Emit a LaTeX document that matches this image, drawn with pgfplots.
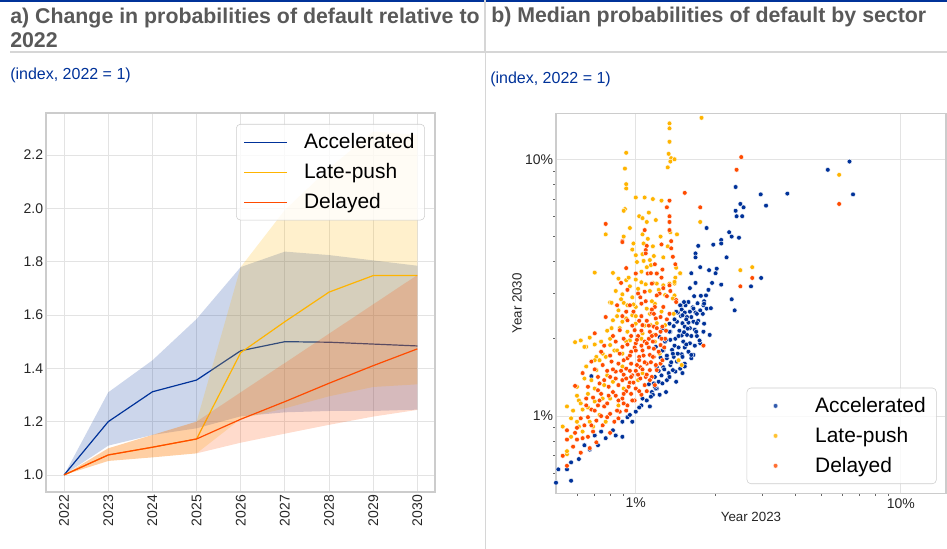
\documentclass[border=0pt]{standalone}
\usepackage{fontspec}
\setmainfont{Liberation Sans}
\usepackage{pgfplots}
\pgfplotsset{compat=1.18}
\definecolor{ecbblue}{HTML}{003299}
\definecolor{ecbyellow}{HTML}{FFB400}
\definecolor{ecborange}{HTML}{FF4B00}
\definecolor{titlegray}{HTML}{595959}
\definecolor{gridgray}{HTML}{E3E3E3}
\definecolor{framegray}{HTML}{CCCCCC}
\definecolor{sepgray}{HTML}{D6D6D6}
\definecolor{ticktext}{HTML}{262626}
\begin{document}
\begin{tikzpicture}
\useasboundingbox (0,0) rectangle (710.25pt,-411.75pt);
\fill[ecbblue] (0,0) rectangle (710.25pt,-1.2pt);
\draw[sepgray, line width=1.5pt] (7.5pt,-39pt) -- (710.25pt,-39pt);
\draw[sepgray, line width=1.6pt] (364pt,0pt) -- (364pt,-39pt);
\draw[sepgray, line width=1.0pt] (364pt,-39pt) -- (364pt,-411.75pt);
\node[anchor=base west, inner sep=0pt, font=\fontsize{16}{19}\selectfont\bfseries, text=titlegray] at (7.5pt,-18pt) {a) Change in probabilities of default relative to};
\node[anchor=base west, inner sep=0pt, font=\fontsize{16}{19}\selectfont\bfseries, text=titlegray] at (7.5pt,-35.5pt) {2022};
\node[anchor=base west, inner sep=0pt, font=\fontsize{16}{19}\selectfont\bfseries, text=titlegray] at (368.25pt,-17pt) {b) Median probabilities of default by sector};
\node[anchor=base west, inner sep=0pt, font=\fontsize{12}{14}\selectfont, text=ecbblue] at (7.5pt,-60pt) {(index, 2022 = 1)};
\node[anchor=base west, inner sep=0pt, font=\fontsize{12}{14}\selectfont, text=ecbblue] at (367.5pt,-62.5pt) {(index, 2022 = 1)};

\begin{axis}[
  at={(34.5pt,-369pt)}, anchor=south west,
  scale only axis, width=291.75pt, height=284.25pt,
  xmin=2021.59, xmax=2030.4, ymin=0.936, ymax=2.358,
  xtick={2022,2023,2024,2025,2026,2027,2028,2029,2030},
  xticklabels={2022,2023,2024,2025,2026,2027,2028,2029,2030},
  ytick={1.0,1.2,1.4,1.6,1.8,2.0,2.2},
  yticklabels={1.0,1.2,1.4,1.6,1.8,2.0,2.2},
  grid=major, grid style={gridgray, line width=0.6pt},
  axis line style={framegray, line width=0.8pt},
  major tick length=0pt,
  tick label style={font=\fontsize{10.5}{12}\selectfont, text=ticktext},
  xticklabel style={rotate=90, anchor=east, inner sep=2pt},
  yticklabel style={inner sep=2pt},
  legend style={at={(0.974,0.971)}, anchor=north east, draw=framegray, rounded corners=3pt,
    fill=white, fill opacity=0.8, text opacity=1, font=\fontsize{15.7}{18}\selectfont,
    inner xsep=5.5pt, inner ysep=5pt, row sep=5.6pt,
    /tikz/every odd column/.append style={column sep=10.5pt}},
  legend cell align=left,
  legend image code/.code={\draw[#1, line width=0.8pt] (0pt,0pt) -- (32pt,0pt);},
]
\addplot[draw=none, fill=ecbblue, fill opacity=0.2, forget plot] coordinates {
(2022,1.0) (2023,1.31) (2024,1.43) (2025,1.585) (2026,1.78) (2027,1.838) (2028,1.825) (2029,1.805) (2030,1.785)
(2030,1.245) (2029,1.24) (2028,1.24) (2027,1.235) (2026,1.22) (2025,1.175) (2024,1.15) (2023,1.11) (2022,1.0)};
\addplot[ecbblue, line width=0.9pt] coordinates {
(2022,1.0) (2023,1.2) (2024,1.312) (2025,1.356) (2026,1.466) (2027,1.5) (2028,1.498) (2029,1.491) (2030,1.484)};
\addlegendentry{Accelerated\hspace{3pt}}
\addplot[draw=none, fill=ecbyellow, fill opacity=0.2, forget plot] coordinates {
(2022,1.0) (2023,1.1) (2024,1.15) (2025,1.2) (2026,1.78) (2027,1.994) (2028,2.15) (2029,2.288) (2030,2.276)
(2030,1.34) (2029,1.33) (2028,1.295) (2027,1.25) (2026,1.21) (2025,1.081) (2024,1.066) (2023,1.0525) (2022,1.0)};
\addplot[ecbyellow, line width=0.9pt] coordinates {
(2022,1.0) (2023,1.075) (2024,1.104) (2025,1.135) (2026,1.459) (2027,1.575) (2028,1.686) (2029,1.748) (2030,1.748)};
\addlegendentry{Late-push}
\addplot[draw=none, fill=ecborange, fill opacity=0.2, forget plot] coordinates {
(2022,1.0) (2023,1.1) (2024,1.15) (2025,1.2) (2026,1.31) (2027,1.42) (2028,1.53) (2029,1.64) (2030,1.75)
(2030,1.244) (2029,1.219) (2028,1.188) (2027,1.155) (2026,1.121) (2025,1.081) (2024,1.066) (2023,1.0525) (2022,1.0)};
\addplot[ecborange, line width=0.9pt] coordinates {
(2022,1.0) (2023,1.075) (2024,1.104) (2025,1.135) (2026,1.209) (2027,1.275) (2028,1.344) (2029,1.41) (2030,1.473)};
\addlegendentry{Delayed}
\end{axis}

\begin{axis}[
  at={(417pt,-370pt)}, anchor=south west,
  scale only axis, width=292.5pt, height=285pt,
  xmode=log, ymode=log, xmin=0.5, xmax=14.8, ymin=0.5, ymax=15.1,
  xtick={1,10}, xticklabels={1\%,10\%}, ytick={1,10}, yticklabels={1\%,10\%},
  minor xtick={0.6,0.7,0.8,0.9,2,3,4,5,6,7,8,9},
  minor ytick={0.6,0.7,0.8,0.9,2,3,4,5,6,7,8,9},
  xtick pos=left, ytick pos=left,
  grid=major, grid style={gridgray, line width=0.6pt},
  axis line style={framegray, line width=0.8pt},
  tick align=outside, major tick length=0pt, minor tick length=2pt,
  minor tick style={black!60, line width=0.5pt},
  tick label style={font=\fontsize{10.5}{12}\selectfont, text=ticktext},
  xticklabel style={inner sep=2pt, yshift=-1.5pt},
  yticklabel style={inner sep=2pt},
  xlabel={Year 2023}, ylabel={Year 2030},
  label style={font=\fontsize{10}{12}\selectfont, text=ticktext},
  xlabel style={at={(axis description cs:0.5,0)}, anchor=base, yshift=-21.3pt},
  ylabel style={at={(axis description cs:0,0.5)}, anchor=base, yshift=25.7pt},
  legend style={at={(0.976,0.0245)}, anchor=south east, draw=framegray, rounded corners=3pt,
    fill=white, fill opacity=0.8, text opacity=1, font=\fontsize{15.7}{18}\selectfont,
    inner xsep=6pt, inner ysep=5pt, row sep=5.6pt},
  legend cell align=left,
  legend image code/.code={\path (0pt,0pt) (42.75pt,0pt); \draw[#1] plot coordinates {(15.25pt,0pt)};},
]
\addplot[only marks, mark=*, mark size=1.8pt, mark options={fill=ecbblue, draw=white, line width=0.3pt}] coordinates {
(6.4,9.8) (5.3,9.1) (2.38,7.8) (2.96,7.3) (3.73,7.35) (6.6,7.3) (2.48,6.7) (2.55,6.5) (3.1,6.6) (2.38,6.3) (2.4,6.0) (2.52,6.0) (1.85,5.4) (2.25,5.2) (2.3,5.0) (2.45,4.95) (2.1,4.85) (2.1,4.7) (1.96,4.65) (1.72,4.6) (1.68,4.3) (1.68,4.15) (2.2,4.15) (1.75,3.8) (1.89,3.7) (2.02,3.75) (2.0,3.6) (2.97,3.45) (2.72,3.2) (1.62,3.6) (1.68,3.3) (1.94,3.3) (2.1,3.25) (1.88,3.1) (1.6,3.15) (1.66,2.93) (1.76,2.94) (1.84,2.95) (2.3,2.85) (1.81,2.8) (1.71,2.75) (1.8,2.7) (1.64,2.65) (1.85,2.62) (1.92,2.63) (2.36,2.58) (1.68,2.53)
(1.58,2.78) (1.54,2.7) (1.48,2.7) (1.49,2.6) (1.6,2.55) (1.53,2.53) (1.44,2.53) (1.7,2.5) (1.62,2.43) (1.56,2.43) (1.48,2.45) (1.72,2.35) (1.65,2.33) (1.58,2.31) (1.5,2.3) (1.43,2.33) (1.39,2.24) (1.53,2.23) (1.6,2.2) (1.67,2.17) (1.8,2.13) (1.9,2.07) (1.35,2.13) (1.46,2.15) (1.49,2.06) (1.56,2.07) (1.7,2.05) (1.41,2.0) (1.35,1.98) (1.29,1.95) (1.51,1.95) (1.6,1.92) (1.67,1.88) (1.75,1.92) (1.53,1.85) (1.45,1.85) (1.37,1.81) (1.27,1.8) (1.58,1.78) (1.49,1.74) (1.65,1.73) (1.62,1.68) (1.39,1.7) (1.31,1.68) (1.24,1.69) (1.43,1.63) (1.53,1.6) (1.35,1.58) (1.47,1.53) (1.27,1.55) (1.2,1.55) (1.41,1.49) (1.33,1.47) (1.25,1.44) (1.18,1.42) (1.31,1.38) (1.22,1.36) (1.17,1.34) (1.2,1.28) (1.15,1.24) (1.16,1.21)
(1.52,2.78) (1.47,2.7) (1.42,2.55) (1.5,2.47) (1.4,2.38) (1.34,2.29) (1.26,2.19) (1.34,2.13) (1.23,2.03) (1.3,1.98) (1.19,1.86) (1.26,1.8) (1.38,1.75) (1.5,1.7) (1.62,1.73) (1.74,1.97) (1.69,2.13) (1.57,2.19) (1.81,2.74) (1.79,2.5) (1.81,2.29)
(1.53,1.56) (1.38,1.51) (1.34,1.42) (1.26,1.34) (1.19,1.28) (1.14,1.19) (1.13,1.09) (1.0,1.04) (0.93,0.99) (0.89,0.95) (0.89,0.83) (0.84,0.84) (0.77,0.82) (0.72,0.77) (0.67,0.74) (0.61,0.68) (0.57,0.66) (0.55,0.62) (0.51,0.62) (0.57,0.56) (0.5,0.55) (1.05,1.1) (0.97,0.95) (0.82,0.88) (0.74,0.87) (0.7,0.84) (0.64,0.77) (1.06,1.17) (1.23,1.21) (1.3,1.24) (1.42,1.36) (1.5,1.47) (0.68,1.43)
(1.1,1.15) (1.18,1.3) (1.28,1.52) (1.36,1.62) (1.44,1.75) (1.55,1.9) (1.62,2.05) (1.7,2.3) (1.75,2.58) (1.45,2.05) (1.4,1.88) (1.31,1.72) (1.22,1.5) (1.12,1.33) (1.55,2.38) (1.65,2.62) (1.52,2.12) (1.03,1.08) (0.95,1.01)};
\addlegendentry{Accelerated\hspace{3pt}}
\addplot[only marks, mark=*, mark size=1.8pt, mark options={fill=ecbyellow, draw=white, line width=0.3pt}] coordinates {
(1.77,14.5) (1.34,13.8) (1.34,13.2) (1.34,11.7) (1.33,10.5) (1.36,10.1) (1.4,10.0) (1.35,9.8) (1.32,9.3) (0.92,10.6) (0.91,9.2) (0.92,8.0) (0.92,7.7) (1.0,7.1) (1.08,7.1) (1.16,7.0) (1.25,6.9) (0.91,6.4) (0.9,6.3) (1.12,6.2) (1.03,6.0) (1.06,5.9) (1.19,5.8) (1.1,5.7) (1.75,5.7) (0.95,5.4) (1.35,5.2) (1.43,5.1) (1.06,5.1) (0.77,5.1) (0.9,5.0) (1.24,5.0) (1.11,4.9) (5.85,8.7) (2.48,3.7) (2.75,3.8)
(0.98,4.7) (1.07,4.7) (1.16,4.58) (1.32,4.58) (0.97,4.45) (1.0,4.23) (1.06,4.27) (1.17,4.2) (1.27,4.15) (1.01,3.98) (1.07,4.02) (1.13,4.05) (1.14,3.87) (1.42,3.78) (0.70,3.62) (0.82,3.61) (1.05,3.65) (1.47,3.59) (0.86,3.43) (0.92,3.38) (0.94,3.46) (1.05,3.32) (1.09,3.26) (1.2,3.28) (1.4,3.28) (0.84,3.07) (1.02,3.13) (1.13,3.07) (0.89,2.98) (0.97,2.9) (1.4,2.95) (0.8,2.77) (0.9,2.76) (1.0,2.66) (1.1,2.62) (1.25,2.55) (0.86,2.58) (0.97,2.47) (1.13,2.5) (0.82,2.36) (0.89,2.33) (1.0,2.29) (1.14,2.26) (0.81,2.2) (0.93,2.13) (1.06,2.1) (0.62,1.97) (0.67,2.02) (0.59,1.94) (0.65,1.86) (0.8,1.89) (0.83,1.8) (0.95,1.97) (0.89,1.75) (0.71,1.7) (0.77,1.7)
(1.2,3.6) (1.41,3.46) (1.47,3.6) (1.27,3.23) (1.34,3.28) (1.4,3.33) (1.29,2.96) (1.38,2.87) (1.18,2.74) (1.39,2.5) (1.2,2.3) (1.29,2.26) (1.17,2.07) (1.18,1.95) (1.23,1.75) (1.45,1.65) (1.49,1.58)
(0.65,1.56) (0.71,1.51) (0.78,1.44) (0.89,1.56) (0.68,1.38) (0.82,1.36) (1.06,1.47) (0.55,1.09) (0.53,0.91) (0.57,0.83) (0.61,0.91) (0.63,0.87) (0.67,0.95) (0.69,0.91) (0.55,0.71) (0.55,0.73) (0.61,1.15) (0.66,1.22) (0.63,1.06) (0.7,1.14) (0.75,1.17) (0.73,1.01) (0.8,1.17) (0.86,1.1) (0.9,1.28) (1.02,1.38) (0.73,1.65) (0.77,0.95) (0.64,1.86) (0.81,2.76)
(0.6,1.3) (0.64,1.4) (0.7,1.65) (0.74,1.95) (0.78,2.15) (0.85,2.45) (0.88,2.85) (0.95,3.2) (1.0,3.4) (1.1,3.8) (0.85,1.8) (0.92,1.95) (1.0,2.45) (1.05,2.0) (1.15,2.8) (1.22,3.1) (0.76,1.32) (0.58,1.05) (0.6,0.95) (0.66,1.08) (1.08,2.25) (0.93,2.7) (1.16,3.3)
(0.7,1.28) (0.62,1.12) (0.57,0.98) (0.75,1.75) (0.8,2.0) (0.87,2.2) (0.92,2.4) (0.98,2.72) (0.7,1.9) (0.6,1.2)};
\addlegendentry{Late-push}
\addplot[only marks, mark=*, mark size=1.8pt, mark options={fill=ecborange, draw=white, line width=0.3pt}] coordinates {
(2.5,10.2) (2.4,9.1) (5.85,6.7) (2.75,3.45) (2.48,3.2) (1.8,1.88)
(1.53,7.4) (1.34,6.9) (1.31,6.5) (1.75,6.5) (1.34,6.0) (0.77,5.6) (1.34,5.7) (1.34,5.3) (1.08,5.3) (1.36,4.8) (0.89,4.8)
(0.89,4.76) (1.1,4.6) (1.25,4.66) (1.36,4.5) (1.09,4.43) (1.09,4.3) (1.38,4.17) (1.18,3.9) (1.26,3.72) (1.41,3.9) (0.92,3.77) (1.0,3.59) (1.11,3.59) (1.2,3.59) (0.88,3.3) (1.34,3.23) (0.93,3.1) (1.08,3.05) (1.02,3.0) (1.23,3.0) (1.31,2.93) (1.42,2.83) (0.85,2.7) (0.95,2.7) (1.05,2.74) (1.18,2.66) (1.34,2.5) (0.92,2.55) (1.05,2.45) (1.19,2.4) (0.77,2.43) (0.93,2.36) (1.06,2.26) (1.26,2.23) (0.87,2.16) (0.99,2.16) (1.13,2.13) (1.19,2.07) (0.74,1.78) (0.84,1.95) (0.89,1.86) (1.0,1.92) (0.96,1.78) (1.06,1.8) (1.03,1.7) (1.13,1.73) (0.7,2.1)
(1.14,3.6) (1.25,3.46) (1.15,3.28) (1.35,3.07) (1.42,2.78) (1.27,2.66) (1.15,2.52) (1.24,2.43) (1.31,2.38) (1.17,2.23) (1.24,2.13) (1.29,2.0) (1.24,1.89) (1.17,1.83) (1.17,1.7) (1.2,1.51) (1.15,1.42) (1.18,1.32) (1.24,1.6)
(0.68,1.63) (0.63,1.47) (0.75,1.58) (0.84,1.49) (0.96,1.6) (1.03,1.65) (0.59,1.31) (0.73,1.34) (0.89,1.38) (0.97,1.44) (1.13,1.51) (0.55,0.88) (0.59,0.86) (0.6,0.81) (0.64,0.92) (0.66,0.83) (0.69,0.87) (0.71,0.79) (0.62,0.72) (0.67,0.75) (0.53,0.7) (0.55,0.64) (0.55,0.81) (0.65,1.17) (0.65,1.1) (0.68,1.06) (0.72,1.26) (0.76,1.09) (0.78,0.99) (0.71,0.96) (0.82,1.24) (0.89,1.17) (0.87,1.04) (0.83,0.95) (0.96,1.22) (0.93,1.1) (1.0,1.28) (1.08,1.32) (1.05,1.21) (1.09,1.42) (1.19,1.58) (1.26,1.65) (1.16,1.7) (0.92,1.53) (0.81,1.63) (0.99,1.15) (0.8,0.86) (0.75,0.92)
(0.78,1.12) (0.84,1.2) (0.9,1.45) (0.95,1.35) (1.0,1.5) (1.04,1.4) (1.1,1.6) (1.12,1.85) (1.08,1.95) (1.02,2.05) (0.97,2.25) (1.1,2.35) (1.15,2.6) (1.2,2.2) (1.25,2.0) (1.3,2.15) (1.22,1.78) (1.28,1.85) (1.1,1.25) (1.13,1.38) (0.92,1.25) (0.86,1.32) (0.8,1.42) (0.86,1.6) (0.93,1.68) (0.99,1.85) (0.9,2.0) (0.82,2.05) (0.76,1.88) (0.7,1.52) (0.74,1.22) (0.7,1.05) (0.62,0.98) (0.66,0.99) (0.72,1.1) (0.79,1.3) (1.04,1.55) (1.07,1.72) (1.17,2.5) (1.09,2.8) (1.2,2.95) (1.27,3.15) (1.04,2.9) (0.98,2.55) (0.89,2.45) (1.12,2.0) (1.01,1.98) (0.95,1.5) (0.85,1.05) (0.9,1.12)
(0.8,1.02) (0.86,1.15) (0.9,1.22) (0.94,1.3) (0.98,1.35) (1.02,1.45) (1.06,1.52) (1.1,1.45) (1.14,1.62) (1.08,1.62) (1.01,1.58) (0.96,1.42) (0.92,1.4) (0.88,1.5) (0.84,1.4) (0.82,1.52) (0.78,1.5) (0.76,1.38) (0.79,1.2) (0.73,1.15) (0.69,1.18) (0.66,1.3) (0.72,1.42) (0.9,1.65) (0.95,1.72) (1.0,1.8) (1.05,1.88) (1.1,1.92) (1.15,2.05) (1.05,2.15) (0.96,2.05) (0.87,1.75) (0.8,1.72) (0.93,1.9) (1.16,1.95) (1.12,2.25) (1.03,2.35) (0.97,1.15) (1.03,1.25) (0.86,0.98) (0.92,1.05) (0.74,1.0) (0.68,0.92) (0.63,0.82) (0.58,0.76) (0.6,0.9)};
\addlegendentry{Delayed}
\end{axis}
\end{tikzpicture}
\end{document}
